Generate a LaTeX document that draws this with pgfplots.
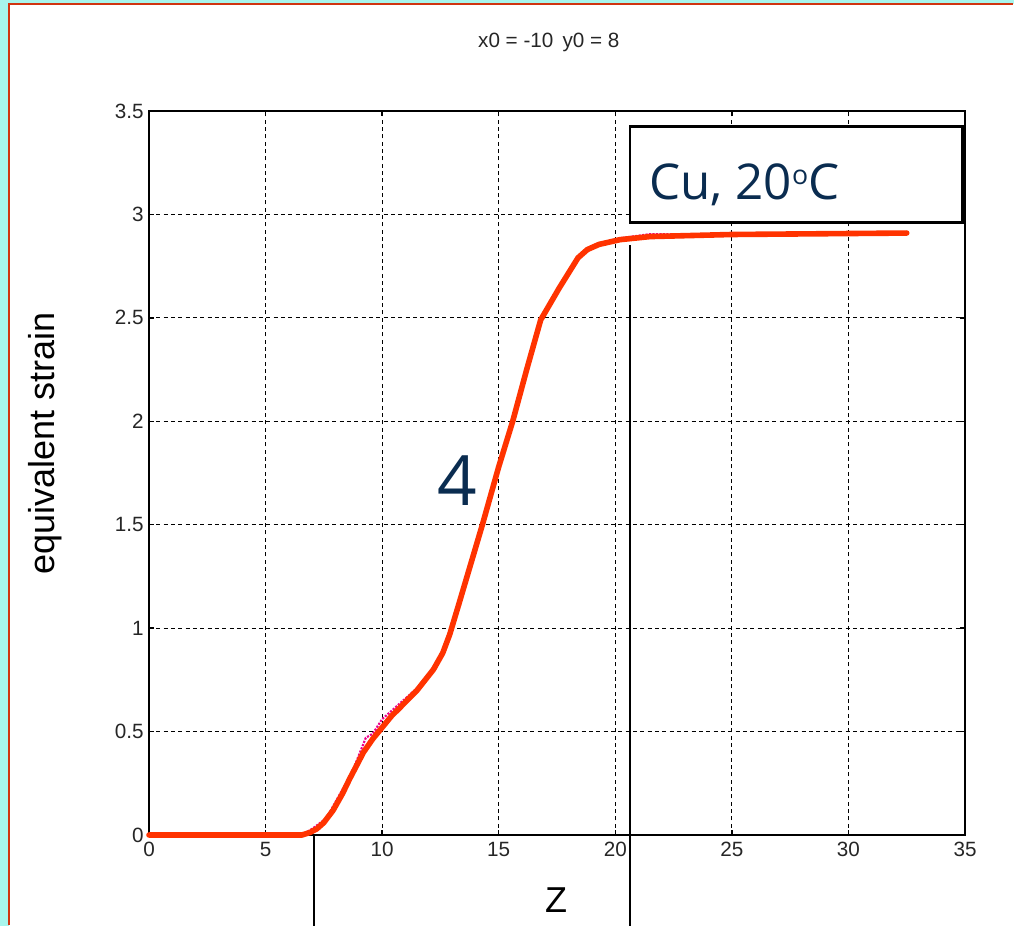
\documentclass[border=0pt]{standalone}
\usepackage{pgfplots}
\pgfplotsset{compat=1.18}
\usepackage{fontspec}
\setmainfont{Liberation Sans}
\newfontfamily\opensans{Open Sans}
\definecolor{bgcyan}{RGB}{168,245,236}
\definecolor{frame}{RGB}{208,52,16}
\definecolor{curve}{RGB}{255,51,0}
\definecolor{navy}{RGB}{10,44,80}
\begin{document}
\begin{tikzpicture}[x=1pt,y=1pt]
% background (pixel -> pt: ((px-149)*0.75, (835-py)*0.75))
\fill[bgcyan] (-111.75,-68.25) rectangle (648.75,626.25);
\fill[white] (-105,-68.25) rectangle (648.75,623.25);
\draw[frame, line width=1.2pt] (-105,-67.65) -- (-105,623.25) -- (648.15,623.25);
\begin{axis}[
  at={(0,0)}, anchor=south west,
  scale only axis, width=612pt, height=543pt,
  xmin=0, xmax=35, ymin=0, ymax=3.5,
  xtick={0,5,...,35}, ytick={0,0.5,...,3.5},
  xticklabels={0,5,10,15,20,25,30,35},
  yticklabels={0,0.5,1,1.5,2,2.5,3,3.5},
  tick label style={font=\fontsize{15.5}{17}\selectfont, text=black!85},
  xticklabel style={yshift=-2pt},
  yticklabel style={xshift=-0.5pt},
  /pgf/number format/assume math mode=true,
  tick align=inside, major tick length=3.75pt,
  axis line style={line width=1pt},
  every tick/.style={black, line width=1pt},
  grid=major,
  major grid style={black, line width=0.85pt, dash pattern=on 3pt off 2.5pt},
  title={x0 = -10\, y0 = 8},
  title style={at={(0.490,1.0843)}, anchor=center, font=\fontsize{15.5}{17}\selectfont, text=black!85},
  xlabel={Z},
  xlabel style={at={(0.4988,-0.0898)}, anchor=center, font=\fontsize{27}{30}\selectfont},
  ylabel={equivalent strain},
  ylabel style={at={(-0.1275,0.5414)}, anchor=center, rotate=0, font=\fontsize{27}{30}\selectfont},
  clip=false,
]
\addplot[magenta, line width=1.6pt, densely dotted] coordinates {
(0,0) (6.56,0) (7.0,0.03) (7.6,0.08) (8.0,0.16) (8.7,0.30) (9.3,0.47) (9.6,0.49) (10.0,0.56) (10.8,0.64)
(11.5,0.71) (12.2,0.81) (12.6,0.89) (12.9,0.99) (13.3,1.13) (14.0,1.36) (14.5,1.57) (15.0,1.77)
(15.6,2.01) (16.2,2.26) (16.8,2.49) (17.6,2.64) (18.4,2.79) (19.1,2.85) (20.2,2.885) (21.5,2.905) (25,2.905) (32.5,2.91)
};
\addplot[curve, line width=4.2pt, line join=round, line cap=round] coordinates {
(0,0) (6.56,0) (6.9,0.012) (7.2,0.03) (7.5,0.06) (7.9,0.12) (8.3,0.20) (8.6,0.27) (9.2,0.40) (9.6,0.465) (10.0,0.52) (10.4,0.575) (10.8,0.62)
(11.5,0.70) (12.2,0.80) (12.6,0.88) (12.9,0.97) (13.3,1.12) (14.3,1.50) (15.0,1.78)
(15.6,2.00) (16.2,2.25) (16.8,2.49) (17.6,2.645) (18.4,2.79) (18.8,2.83) (19.3,2.855) (20.2,2.878) (21.5,2.893) (25,2.903) (32.5,2.91)
};
% annotation lines
\draw[black, line width=1.5pt] (axis cs:7.08,0) -- (axis cs:7.08,-0.44);
\draw[black, line width=1.5pt] (axis cs:20.63,2.85) -- (axis cs:20.63,-0.44);
% label box
\draw[black, line width=2.2pt, fill=white] (axis cs:20.63,3.425) rectangle (axis cs:34.91,2.963);
\node[anchor=base west, inner sep=0pt, text=navy, font=\opensans\fontsize{37}{40}\selectfont] at (axis cs:21.45,3.07) {Cu, 20\raisebox{0.32em}{\fontsize{20}{22}\selectfont o}C};
\node[anchor=center, inner sep=0pt, text=navy, font=\opensans\fontsize{52}{56}\selectfont] at (axis cs:13.21,1.715) {4};
\end{axis}
\useasboundingbox (-111.75,-68.25) rectangle (648.75,626.25);
\end{tikzpicture}
\end{document}
